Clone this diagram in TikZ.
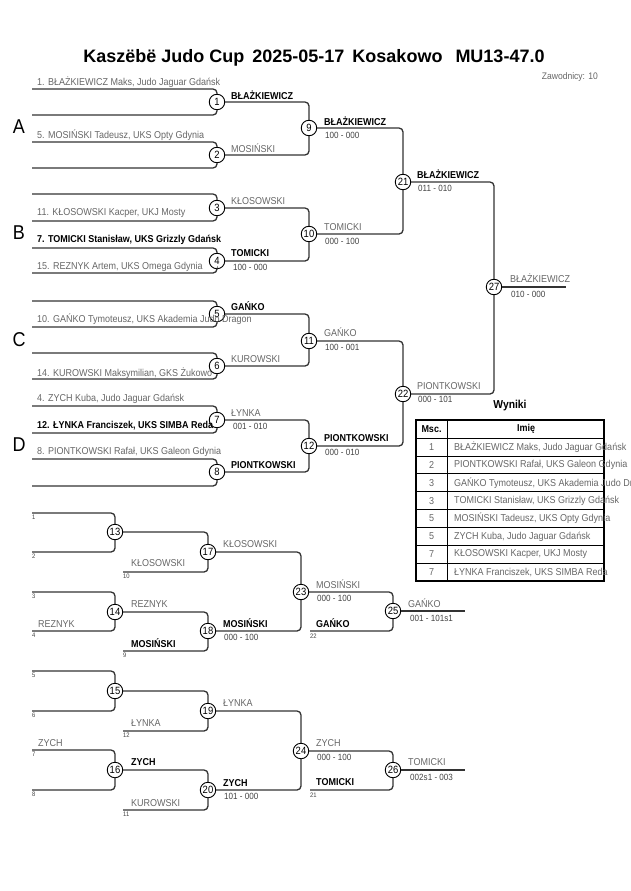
\documentclass[tikz,border=0pt]{standalone}
\usepackage{fontspec}
\setmainfont[FakeStretch=0.9]{Liberation Sans}
\newfontfamily\titlefont{Liberation Sans}
\definecolor{lbl}{HTML}{666666}
\definecolor{ln}{HTML}{333333}
\definecolor{sc}{HTML}{444444}
\tikzset{
 mcirc/.style={circle, draw=black, line width=0.9pt, fill=white, minimum size=15.5pt, inner sep=0pt, font=\fontsize{10.5}{10}\selectfont},
 br/.style={draw=ln, line width=1.3pt, rounded corners=4pt},
 nm/.style={anchor=west, inner sep=0pt, text=lbl, font=\fontsize{10}{10}\selectfont},
 nmb/.style={anchor=west, inner sep=0pt, text=black, font=\fontsize{10}{10}\selectfont\bfseries},
 scr/.style={anchor=west, inner sep=0pt, text=sc, font=\fontsize{9}{9}\selectfont},
 tinyn/.style={anchor=west, inner sep=0pt, text=sc, font=\fontsize{6.5}{6}\selectfont},
 grp/.style={anchor=center, inner sep=0pt, font=\fontsize{20}{20}\selectfont},
 tcell/.style={inner sep=0pt, font=\fontsize{10}{10}\selectfont},
}
\begin{document}
\begin{tikzpicture}[x=1pt,y=-1pt]
\useasboundingbox (0,0) rectangle (630,891);
\begin{scope}
\clip (0,0) rectangle (630,891);
% title
\node[font=\titlefont\fontsize{18}{18}\selectfont\bfseries, inner sep=0pt] (title) at (314,58) {Kasz\"eb\"e Judo Cup\hspace{8pt}2025-05-17\hspace{8pt}Kosakowo\hspace{13pt}MU13-47.0};
\node[anchor=east, inner sep=0pt, text=lbl, font=\fontsize{9.5}{9}\selectfont] (zaw) at (598,77) {Zawodnicy: 10};
% group letters
\node[grp] (gA) at (19,127) {A};
\node[grp] (gB) at (19,233) {B};
\node[grp] (gC) at (19,340) {C};
\node[grp] (gD) at (19,445) {D};
% circles main
\node[mcirc] (m1) at (217,102) {1};
\node[mcirc] (m2) at (217,155) {2};
\node[mcirc] (m3) at (217,208) {3};
\node[mcirc] (m4) at (217,261) {4};
\node[mcirc] (m5) at (217,314) {5};
\node[mcirc] (m6) at (217,366) {6};
\node[mcirc] (m7) at (217,420) {7};
\node[mcirc] (m8) at (217,472) {8};
\node[mcirc] (m9) at (309,128) {9};
\node[mcirc] (m10) at (309,234) {10};
\node[mcirc] (m11) at (309,341) {11};
\node[mcirc] (m12) at (309,446) {12};
\node[mcirc] (m21) at (403,182) {21};
\node[mcirc] (m22) at (403,394) {22};
\node[mcirc] (m27) at (494,287) {27};
% circles repechage
\node[mcirc] (m13) at (115,532) {13};
\node[mcirc] (m14) at (115,612) {14};
\node[mcirc] (m15) at (115,691) {15};
\node[mcirc] (m16) at (115,770) {16};
\node[mcirc] (m17) at (208,552) {17};
\node[mcirc] (m18) at (208,631) {18};
\node[mcirc] (m19) at (208,711) {19};
\node[mcirc] (m20) at (208,790) {20};
\node[mcirc] (m23) at (301,592) {23};
\node[mcirc] (m24) at (301,751) {24};
\node[mcirc] (m25) at (393,611) {25};
\node[mcirc] (m26) at (393,770) {26};
% free ends
\coordinate (a1) at (32,89);  \coordinate (b1) at (32,115);
\coordinate (a2) at (32,142); \coordinate (b2) at (32,168);
\coordinate (a3) at (32,194); \coordinate (b3) at (32,221);
\coordinate (a4) at (32,248); \coordinate (b4) at (32,273);
\coordinate (a5) at (32,301); \coordinate (b5) at (32,327);
\coordinate (a6) at (32,353); \coordinate (b6) at (32,379);
\coordinate (a7) at (32,406); \coordinate (b7) at (32,433);
\coordinate (a8) at (32,459); \coordinate (b8) at (32,486);
\coordinate (e27) at (566,287);
\coordinate (a13) at (32,513); \coordinate (b13) at (32,552);
\coordinate (a14) at (32,592); \coordinate (b14) at (32,631);
\coordinate (a15) at (32,671); \coordinate (b15) at (32,711);
\coordinate (a16) at (32,750); \coordinate (b16) at (32,790);
\coordinate (c17) at (123,572);
\coordinate (c18) at (123,651);
\coordinate (c19) at (123,731);
\coordinate (c20) at (123,810);
\coordinate (c25) at (310,631);
\coordinate (c26) at (310,790);
\coordinate (e25) at (465,611);
\coordinate (e26) at (465,770);
% main bracket lines
\foreach \i in {1,...,8} { \draw[br] (a\i) -| (m\i); \draw[br] (b\i) -| (m\i); }
\draw[br] (m1) -| (m9);  \draw[br] (m2) -| (m9);
\draw[br] (m3) -| (m10); \draw[br] (m4) -| (m10);
\draw[br] (m5) -| (m11); \draw[br] (m6) -| (m11);
\draw[br] (m7) -| (m12); \draw[br] (m8) -| (m12);
\draw[br] (m9) -| (m21); \draw[br] (m10) -| (m21);
\draw[br] (m11) -| (m22); \draw[br] (m12) -| (m22);
\draw[br] (m21) -| (m27); \draw[br] (m22) -| (m27);
\draw[br] (m27) -- (e27);
% repechage lines
\foreach \i in {13,14,15,16} { \draw[br] (a\i) -| (m\i); \draw[br] (b\i) -| (m\i); }
\draw[br] (m13) -| (m17); \draw[br] (c17) -| (m17);
\draw[br] (m14) -| (m18); \draw[br] (c18) -| (m18);
\draw[br] (m15) -| (m19); \draw[br] (c19) -| (m19);
\draw[br] (m16) -| (m20); \draw[br] (c20) -| (m20);
\draw[br] (m17) -| (m23); \draw[br] (m18) -| (m23);
\draw[br] (m19) -| (m24); \draw[br] (m20) -| (m24);
\draw[br] (m23) -| (m25); \draw[br] (c25) -| (m25);
\draw[br] (m24) -| (m26); \draw[br] (c26) -| (m26);
\draw[br] (m25) -- (e25);
\draw[br] (m26) -- (e26);
% entry labels
\node[nm] (l1) at (37,82) {1. BŁAŻKIEWICZ Maks, Judo Jaguar Gdańsk};
\node[nm] (l2) at (37,135) {5. MOSIŃSKI Tadeusz, UKS Opty Gdynia};
\node[nm] (l3) at (37,213) {11. KŁOSOWSKI Kacper, UKJ Mosty};
\node[nmb] (l4) at (37,240) {7. TOMICKI Stanisław, UKS Grizzly Gdańsk};
\node[nm] (l5) at (37,267) {15. REZNYK Artem, UKS Omega Gdynia};
\node[nm] (l6) at (37,319) {10. GAŃKO Tymoteusz, UKS Akademia Judo Dragon};
\node[nm] (l7) at (37,373) {14. KUROWSKI Maksymilian, GKS Żukowo};
\node[nm] (l8) at (37,399) {4. ZYCH Kuba, Judo Jaguar Gdańsk};
\node[nmb] (l9) at (37,426) {12. ŁYNKA Franciszek, UKS SIMBA Reda};
\node[nm] (l10) at (37,452) {8. PIONTKOWSKI Rafał, UKS Galeon Gdynia};
% round 1 outputs
\node[nmb] (w1) at (231,95) {BŁAŻKIEWICZ};
\node[nm] (w2) at (231,148) {MOSIŃSKI};
\node[nm] (w3) at (231,201) {KŁOSOWSKI};
\node[nmb] (w4) at (231,253) {TOMICKI};
\node[scr] (s4) at (233,267) {100 - 000};
\node[nmb] (w5) at (231,306) {GAŃKO};
\node[nm] (w6) at (231,359) {KUROWSKI};
\node[nm] (w7) at (231,413) {ŁYNKA};
\node[scr] (s7) at (233,426) {001 - 010};
\node[nmb] (w8) at (231,465) {PIONTKOWSKI};
% round 2
\node[nmb] (w9) at (324,121) {BŁAŻKIEWICZ};
\node[scr] (s9) at (325,135) {100 - 000};
\node[nm] (w10) at (324,227) {TOMICKI};
\node[scr] (s10) at (325,241) {000 - 100};
\node[nm] (w11) at (324,332) {GAŃKO};
\node[scr] (s11) at (325,347) {100 - 001};
\node[nmb] (w12) at (324,438) {PIONTKOWSKI};
\node[scr] (s12) at (325,452) {000 - 010};
% round 3
\node[nmb] (w21) at (417,174) {BŁAŻKIEWICZ};
\node[scr] (s21) at (418,188) {011 - 010};
\node[nm] (w22) at (417,386) {PIONTKOWSKI};
\node[scr] (s22) at (418,399) {000 - 101};
% final
\node[nm] (w27) at (510,278) {BŁAŻKIEWICZ};
\node[scr] (s27) at (511,294) {010 - 000};
% repechage labels
\node[tinyn] (t1) at (32,517) {1};
\node[tinyn] (t2) at (32,556) {2};
\node[tinyn] (t3) at (32,596) {3};
\node[tinyn] (t4) at (32,635) {4};
\node[tinyn] (t5) at (32,675) {5};
\node[tinyn] (t6) at (32,715) {6};
\node[tinyn] (t7) at (32,754) {7};
\node[tinyn] (t8) at (32,794) {8};
\node[nm] (r14) at (38,624) {REZNYK};
\node[nm] (r16) at (38,743) {ZYCH};
\node[nm] (r17b) at (131,563) {KŁOSOWSKI};
\node[tinyn] (t10) at (123,576) {10};
\node[nmb] (r18b) at (131,643) {MOSIŃSKI};
\node[tinyn] (t9) at (123,655) {9};
\node[nm] (r19b) at (131,723) {ŁYNKA};
\node[tinyn] (t12) at (123,735) {12};
\node[nm] (r20b) at (131,803) {KUROWSKI};
\node[tinyn] (t11) at (123,814) {11};
\node[nm] (r14o) at (131,604) {REZNYK};
\node[nmb] (r16o) at (131,762) {ZYCH};
\node[nm] (r17o) at (223,544) {KŁOSOWSKI};
\node[nmb] (r18o) at (223,623) {MOSIŃSKI};
\node[scr] (q18) at (224,637) {000 - 100};
\node[nm] (r19o) at (223,703) {ŁYNKA};
\node[nmb] (r20o) at (223,783) {ZYCH};
\node[scr] (q20) at (224,796) {101 - 000};
\node[nm] (r23o) at (316,584) {MOSIŃSKI};
\node[scr] (q23) at (317,598) {000 - 100};
\node[nmb] (r25b) at (316,623) {GAŃKO};
\node[tinyn] (t22) at (310,636) {22};
\node[nm] (r25o) at (408,603) {GAŃKO};
\node[scr] (q25) at (410,618) {001 - 101s1};
\node[nm] (r24o) at (316,743) {ZYCH};
\node[scr] (q24) at (317,757) {000 - 100};
\node[nmb] (r26b) at (316,782) {TOMICKI};
\node[tinyn] (t21) at (310,795) {21};
\node[nm] (r26o) at (408,762) {TOMICKI};
\node[scr] (q26) at (410,777) {002s1 - 003};
% results table
\node[font=\fontsize{11.5}{11}\selectfont\bfseries, inner sep=0pt] (wyn) at (510,406) {Wyniki};
\foreach \yy in {438,455.9,473.8,491.6,509.5,527.4,545.3,563.1} {
  \draw[line width=0.8pt] (416,\yy) -- (604,\yy);
}
\draw[line width=0.8pt] (447,420) -- (447,581);
\draw[line width=1.6pt] (416,420) rectangle (604,581);
\node[tcell, font=\fontsize{10}{10}\selectfont\bfseries] (h1) at (431.5,429) {Msc.};
\node[tcell, font=\fontsize{10}{10}\selectfont\bfseries] (h2) at (526,429) {Imię};
\foreach \n/\p/\t in {1/1/{BŁAŻKIEWICZ Maks, Judo Jaguar Gdańsk},
                      2/2/{PIONTKOWSKI Rafał, UKS Galeon Gdynia},
                      3/3/{GAŃKO Tymoteusz, UKS Akademia Judo Dragon},
                      4/3/{TOMICKI Stanisław, UKS Grizzly Gdańsk},
                      5/5/{MOSIŃSKI Tadeusz, UKS Opty Gdynia},
                      6/5/{ZYCH Kuba, Judo Jaguar Gdańsk},
                      7/7/{KŁOSOWSKI Kacper, UKJ Mosty},
                      8/7/{ŁYNKA Franciszek, UKS SIMBA Reda}} {
  \node[tcell, text=lbl] (p\n) at (431.5,{438+17.89*(\n-0.5)}) {\p};
  \node[tcell, text=lbl, anchor=west] (n\n) at (454,{438+17.89*(\n-0.5)}) {\t};
}
\end{scope}
\end{tikzpicture}
\end{document}
